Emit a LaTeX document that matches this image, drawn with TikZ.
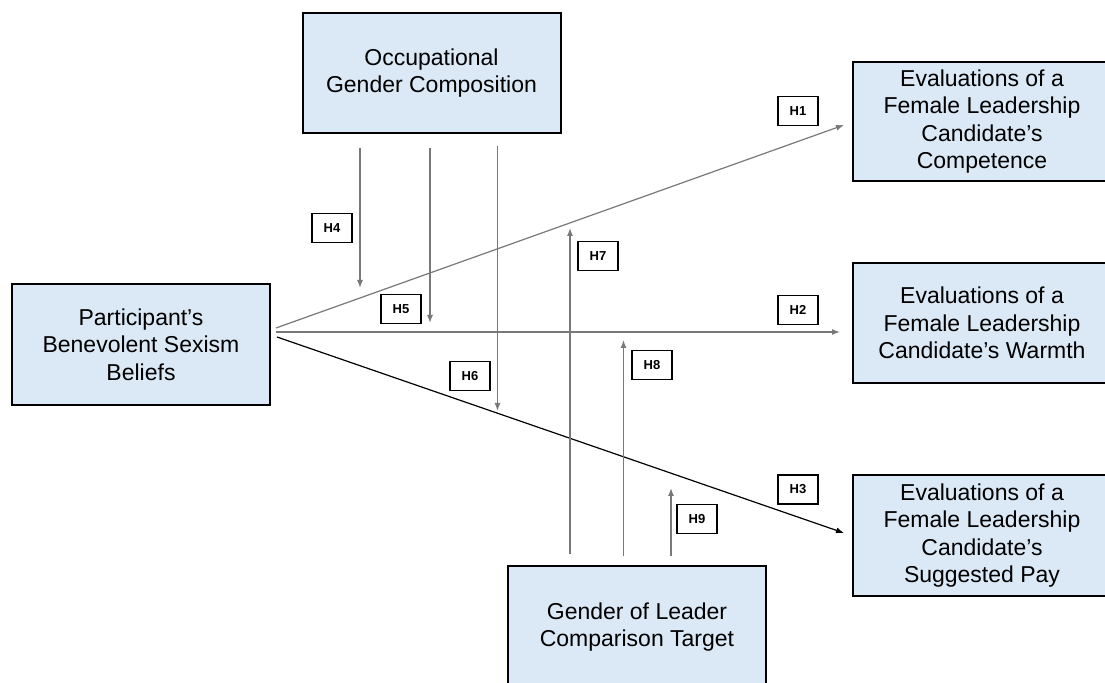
\documentclass[tikz,border=0pt]{standalone}
\usepackage{fontspec}
\setmainfont{Liberation Sans}
\usepackage{xcolor}
\usetikzlibrary{positioning, calc, arrows.meta}

\definecolor{boxblue}{RGB}{219,232,245}
\definecolor{linkgray}{RGB}{120,120,120}

\begin{document}
\begin{tikzpicture}[
        x=0.5pt, y=-0.5pt,
        construct/.style={rectangle, draw, line width=1pt, fill=boxblue, minimum width=129pt, minimum height=60pt, align=center, font=\fontsize{11.5}{13.8}\selectfont},
        hlabel/.style={rectangle, draw, line width=0.6pt, fill=white, minimum width=20pt, minimum height=14.5pt, inner sep=0pt, font=\fontsize{6.5}{7}\selectfont\bfseries},
        link/.style={-{Latex[length=4pt,width=3pt]}, linkgray, line width=0.6pt},
    ]
        \useasboundingbox (0,0) rectangle (1105,683);
        \clip (0,0) rectangle (1105,683);

        % Constructs
        \node[construct] (occ) at (431.5, 73) {Occupational\\Gender Composition};
        \node[construct, minimum height=60.5pt] (bsb) at (141, 344.5) {Participant’s\\Benevolent Sexism\\Beliefs};
        \node[construct, minimum height=59.5pt] (comp) at (982, 121.5) {Evaluations of a\\Female Leadership\\Candidate’s\\Competence};
        \node[construct] (warm) at (982, 323) {Evaluations of a\\Female Leadership\\Candidate’s Warmth};
        \node[construct, minimum height=60.5pt] (pay) at (982, 535.5) {Evaluations of a\\Female Leadership\\Candidate’s\\Suggested Pay};
        \node[construct, minimum height=61pt] (gen) at (637, 627) {Gender of Leader\\Comparison Target};

        % Hypothesis labels
        \node[hlabel] (h1) at (798, 111) {H1};
        \node[hlabel] (h2) at (798, 310) {H2};
        \node[hlabel] (h3) at (798, 489.5) {H3};
        \node[hlabel] (h4) at (332, 228) {H4};
        \node[hlabel] (h5) at (401, 309) {H5};
        \node[hlabel] (h6) at (470, 376) {H6};
        \node[hlabel] (h7) at (598, 256) {H7};
        \node[hlabel] (h8) at (652, 365) {H8};
        \node[hlabel] (h9) at (697, 519) {H9};

        % Moderator targets
        \coordinate (m4) at (360, 288);
        \coordinate (m5) at (430, 323);
        \coordinate (m6) at (497.5, 411);
        \coordinate (m7) at (570, 228);
        \coordinate (m8) at (623.5, 340);
        \coordinate (m9) at (671, 488);

        % Direct effects
        \draw[link] ($(bsb.east)+(5,-16.5)$) -- ($(comp.west)+(-8,3.5)$);
        \draw[link] ($(bsb.east)+(5,-12.5)$) -- ($(warm.west)+(-12,9)$);
        \draw[link, black] ($(bsb.east)+(6,-7.5)$) -- ($(pay.west)+(-8,-2.5)$);

        % Moderation
        \draw[link] ($(m4 |- occ.south)+(0,14)$) -- (m4);
        \draw[link] ($(m5 |- occ.south)+(0,14)$) -- (m5);
        \draw[link] ($(m6 |- occ.south)+(0,12)$) -- (m6);
        \draw[link] ($(m7 |- gen.north)+(0,-11)$) -- (m7);
        \draw[link] ($(m8 |- gen.north)+(0,-9)$) -- (m8);
        \draw[link] ($(m9 |- gen.north)+(0,-9)$) -- (m9);
    \end{tikzpicture}
\end{document}
